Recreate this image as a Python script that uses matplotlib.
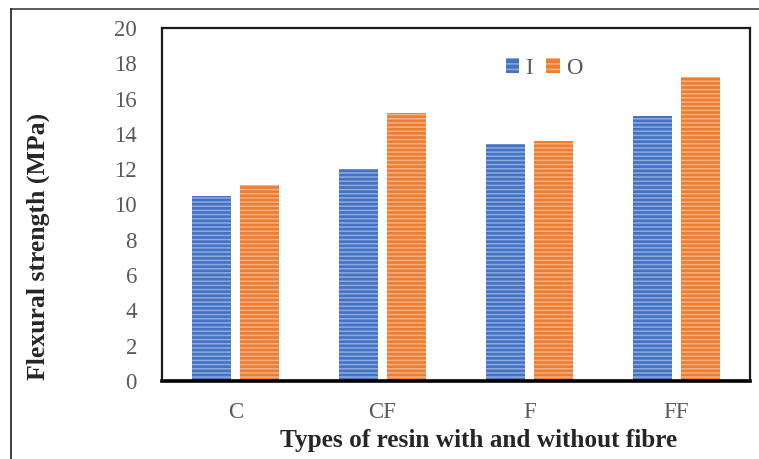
import matplotlib
matplotlib.use('Agg')
import matplotlib.pyplot as plt
from matplotlib.lines import Line2D
from matplotlib.patches import Patch
import numpy as np

plt.rcParams['font.family'] = 'Liberation Serif'
plt.rcParams['hatch.linewidth'] = 1.1

categories = ['C', 'CF', 'F', 'FF']
series_names = ['I', 'O']
values_I = [10.5, 12.0, 13.4, 15.0]
values_O = [11.1, 15.2, 13.6, 17.2]
colors = ['#4472C4', '#ED7D31']
stripe = (1, 1, 1, 0.4)

fig = plt.figure(figsize=(7.59, 4.59), dpi=100)
ax = fig.add_axes([162 / 759, 1 - 381 / 459, 588 / 759, 353 / 459])

x = np.arange(len(categories))
w = 0.26
off = 0.163
for vals, sign, c in [(values_I, -1, colors[0]), (values_O, 1, colors[1])]:
    ax.bar(x + sign * off, vals, w, color=c, edgecolor=stripe, linewidth=0, hatch='----')

ax.set_xlim(-0.5, 3.5)
ax.set_ylim(0, 20)
ax.set_yticks(range(0, 21, 2))
ax.set_xticks(x)
ax.set_xticklabels(categories)
ax.tick_params(axis='both', length=0, labelsize=16.5, colors='#595959')
ax.tick_params(axis='y', pad=18)
ax.tick_params(axis='x', pad=15)

for side in ['left', 'top', 'right']:
    ax.spines[side].set_linewidth(1.6)
    ax.spines[side].set_color('#1a1a1a')
ax.spines['bottom'].set_linewidth(2.6)
ax.spines['bottom'].set_color('black')

handles = [Patch(facecolor=c, edgecolor=stripe, linewidth=0, hatch='---') for c in colors]
ax.legend(handles, series_names, loc='center', bbox_to_anchor=(544 / 759, 1 - 68 / 459),
          bbox_transform=fig.transFigure, ncol=2, frameon=False, fontsize=16.5,
          handlelength=0.6, handleheight=0.6, handletextpad=0.25, columnspacing=0.6,
          labelcolor='#595959')

fig.text(38 / 759, 1 - 246 / 459, 'Flexural strength (MPa)', rotation=90,
         ha='center', va='center', fontsize=18.5, fontweight='bold', color='#262626')
fig.text(479 / 759, 1 - 441 / 459, 'Types of resin with and without fibre',
         ha='center', va='center', fontsize=18.2, fontweight='bold', color='#262626')

# outer frame edges
fig.add_artist(Line2D([11 / 759, 1], [1 - 9 / 459, 1 - 9 / 459], color='#404040', lw=1.2,
                      transform=fig.transFigure))
fig.add_artist(Line2D([11 / 759, 11 / 759], [0, 1 - 9 / 459], color='#202020', lw=1.2,
                      transform=fig.transFigure))

fig.savefig('out.png', dpi=100)
